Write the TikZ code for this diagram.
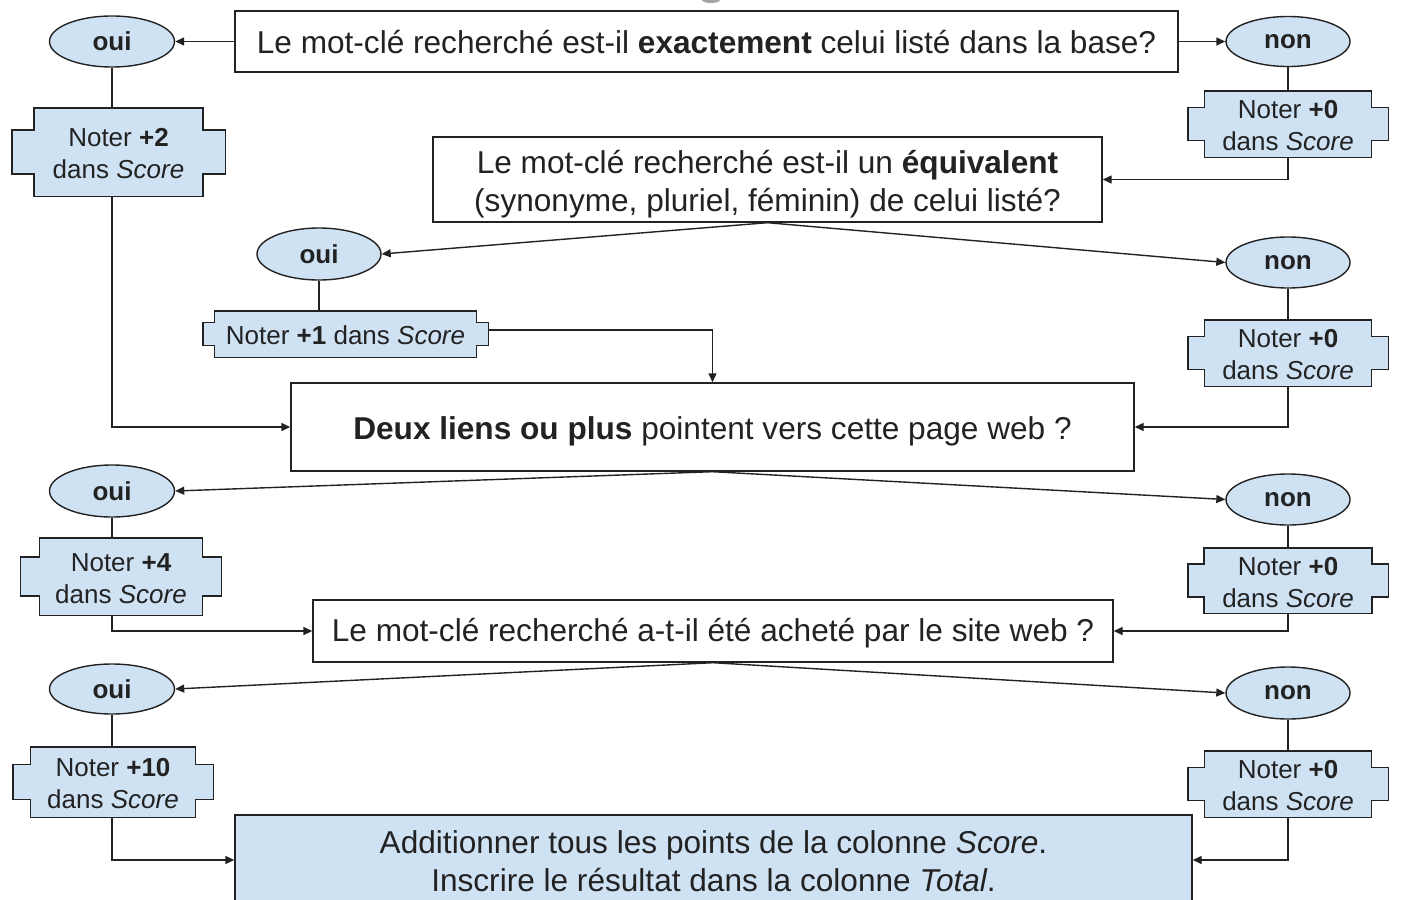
\documentclass[tikz,border=0pt]{standalone}
\usepackage{fontspec}
\setmainfont{Liberation Sans}
\usetikzlibrary{shapes.geometric,arrows.meta,calc}
\definecolor{lblue}{HTML}{CFE2F3}
\definecolor{ink}{HTML}{222222}
\newcommand{\bigtxt}{\fontsize{31.6}{38}\selectfont}
\newcommand{\smtxt}{\fontsize{26}{32}\selectfont}
\newcommand{\notchbox}[1]{%
  \path let \p1=(#1.north west), \p2=(#1.south east), \n1={(\y1-\y2)/4} in
   [fill=lblue, draw=ink, line width=1.4pt, line join=miter]
   (\x1+\n1,\y1) -- (\x2-\n1,\y1) -- (\x2-\n1,\y1-\n1) -- (\x2,\y1-\n1)
   -- (\x2,\y2+\n1) -- (\x2-\n1,\y2+\n1) -- (\x2-\n1,\y2) -- (\x1+\n1,\y2)
   -- (\x1+\n1,\y2+\n1) -- (\x1,\y2+\n1) -- (\x1,\y1-\n1) -- (\x1+\n1,\y1-\n1) -- cycle;}
\tikzset{
  qbox/.style={draw=ink, line width=1.4pt, rectangle, inner sep=0pt},
  qtext/.style={inner sep=0pt, align=center, text=ink, font=\bigtxt},
  yesno/.style={draw=ink, fill=lblue, line width=1.4pt, ellipse, inner sep=0pt, text=ink, font=\smtxt\bfseries},
  notebox/.style={rectangle, inner sep=0pt, align=center, text=ink, font=\smtxt},
  conn/.style={draw=ink, line width=1.4pt},
  arr/.style={conn, -{Triangle[length=9pt,width=8pt]}},
}
\begin{document}
\begin{tikzpicture}[x=1pt,y=-1pt]
\clip (0,0) rectangle (1402,899);
\useasboundingbox (0,0) rectangle (1402,899);
\fill[white] (0,0) rectangle (1402,899);
% partial shape at top edge
\fill[gray!70] (711,0) ellipse (9 and 3);

% ---- level 1
\node[qbox, minimum width=943, minimum height=61] (q1) at (706.5,41.5) {};
\node[qtext] (q1t) at (706.5,42.5)
  {Le mot-clé recherché est-il \textbf{exactement} celui listé dans la base?};
\node[yesno, minimum width=125, minimum height=51] (oui1) at (112,41.5) {oui};
\node[yesno, minimum width=124, minimum height=50] (non1) at (1288,41.5) {non};
\node[notebox, minimum width=213, minimum height=88] (n1) at (118.5,152) {};
\node[notebox, minimum width=200, minimum height=66] (n1r) at (1288,124) {};
\notchbox{n1}\notchbox{n1r}
\node[notebox] (n1t) at (118.5,154) {Noter \textbf{+2}\\dans \textit{Score}};
\node[notebox] (n1rt) at (1288,126) {Noter \textbf{+0}\\dans \textit{Score}};

% ---- level 2
\node[qbox, minimum width=669, minimum height=85] (q2) at (767.5,179.5) {};
\node[qtext] (q2t) at (767.5,184)
  {Le mot-clé recherché est-il un \textbf{équivalent}\\(synonyme, pluriel, féminin) de celui listé?};
\node[yesno, minimum width=124, minimum height=52] (oui2) at (319,254) {oui};
\node[yesno, minimum width=124, minimum height=51] (non2) at (1288,262.5) {non};
\node[notebox, minimum width=285, minimum height=46] (n2) at (345.5,334) {};
\node[notebox, minimum width=200, minimum height=66] (n2r) at (1288,353) {};
\notchbox{n2}\notchbox{n2r}
\node[notebox] (n2t) at (345.5,335.5) {Noter \textbf{+1} dans \textit{Score}};
\node[notebox] (n2rt) at (1288,355) {Noter \textbf{+0}\\dans \textit{Score}};

% ---- level 3
\node[qbox, minimum width=843, minimum height=88] (q3) at (712.5,427) {};
\node[qtext] (q3t) at (712.5,431)
  {\textbf{Deux liens ou plus} pointent vers cette page web ?};
\node[yesno, minimum width=125, minimum height=52] (oui3) at (112,491) {oui};
\node[yesno, minimum width=124, minimum height=51] (non3) at (1288,499.5) {non};
\node[notebox, minimum width=201, minimum height=77] (n3) at (121,576.5) {};
\node[notebox, minimum width=200, minimum height=65] (n3r) at (1288,580.5) {};
\notchbox{n3}\notchbox{n3r}
\node[notebox] (n3t) at (121,578.5) {Noter \textbf{+4}\\dans \textit{Score}};
\node[notebox] (n3rt) at (1288,582.5) {Noter \textbf{+0}\\dans \textit{Score}};

% ---- level 4
\node[qbox, minimum width=800, minimum height=62] (q4) at (713,631) {};
\node[qtext] (q4t) at (713,633.5)
  {Le mot-clé recherché a-t-il été acheté par le site web ?};
\node[yesno, minimum width=125, minimum height=50] (oui4) at (112,689) {oui};
\node[yesno, minimum width=124, minimum height=52] (non4) at (1288,693) {non};
\node[notebox, minimum width=200, minimum height=70] (n4) at (113,782) {};
\node[notebox, minimum width=200, minimum height=66] (n4r) at (1288,784) {};
\notchbox{n4}\notchbox{n4r}
\node[notebox] (n4t) at (113,784) {Noter \textbf{+10}\\dans \textit{Score}};
\node[notebox] (n4rt) at (1288,786) {Noter \textbf{+0}\\dans \textit{Score}};

% ---- final
\node[qbox, fill=lblue, minimum width=957, minimum height=90] (fin) at (713.5,860) {};
\node[qtext] (fint) at (713.5,861)
  {Additionner tous les points de la colonne \textit{Score}.\\Inscrire le résultat dans la colonne \textit{Total}.};

% ---- connectors
\draw[arr] (q1.west) -- (oui1.east);
\draw[arr] (q1.east) -- (non1.west);
\draw[conn] (oui1.south) -- (oui1.south |- n1.north);
\draw[conn] (non1.south) -- (n1r.north);
\draw[arr] (oui1.south |- n1.south) -- (oui1.south |- q3.west) -- (q3.west);
\draw[arr] (n1r.south) -- (n1r.south |- q2.east) -- (q2.east);

\draw[arr] (q2.south) -- (oui2.east);
\draw[arr] (q2.south) -- (non2.west);
\draw[conn] (oui2.south) -- (oui2.south |- n2.north);
\draw[conn] (non2.south) -- (n2r.north);
\draw[arr] ([yshift=4pt]n2.east) -- ([yshift=4pt]n2.east -| q3.north) -- (q3.north);
\draw[arr] (n2r.south) -- (n2r.south |- q3.east) -- (q3.east);

\draw[arr] (q3.south) -- (oui3.east);
\draw[arr] (q3.south) -- (non3.west);
\draw[conn] (oui3.south) -- (oui3.south |- n3.north);
\draw[conn] (non3.south) -- (n3r.north);
\draw[arr] (oui3.south |- n3.south) -- (oui3.south |- q4.west) -- (q4.west);
\draw[arr] (n3r.south) -- (n3r.south |- q4.east) -- (q4.east);

\draw[arr] (q4.south) -- (oui4.east);
\draw[arr] (q4.south) -- (non4.west);
\draw[conn] (oui4.south) -- (oui4.south |- n4.north);
\draw[conn] (non4.south) -- (n4r.north);
\draw[arr] (oui4.south |- n4.south) -- (oui4.south |- fin.west) -- (fin.west);
\draw[arr] (n4r.south) -- (n4r.south |- fin.east) -- (fin.east);
\end{tikzpicture}
\end{document}
